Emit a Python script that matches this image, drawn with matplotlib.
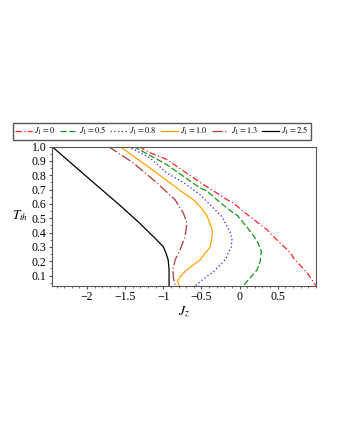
import matplotlib
matplotlib.use("Agg")
import matplotlib.pyplot as plt
from matplotlib.ticker import MultipleLocator

plt.rcParams["font.family"] = ["Liberation Serif", "DejaVu Serif"]
plt.rcParams["mathtext.fontset"] = "stix"

# J1 values and the (Jz, T_th) points
LABELS = ["0", "0.5", "0.8", "1.0", "1.3", "2.5"]

T_J0 = [1.0, 0.956, 0.91, 0.749, 0.72, 0.63, 0.605, 0.546, 0.42, 0.395,
        0.256, 0.22, 0.116, 0.03]
JZ_J0 = [-1.32, -1.175, -0.955, -0.517, -0.43, -0.166, -0.079, 0.05, 0.36,
         0.40, 0.67, 0.71, 0.89, 1.0]

T_J05 = [1.0, 0.874, 0.71, 0.69, 0.607, 0.535, 0.52, 0.395, 0.33, 0.267,
         0.20, 0.14, 0.03]
JZ_J05 = [-1.39, -0.955, -0.517, -0.43, -0.25, -0.079, -0.03, 0.16, 0.24,
          0.285, 0.27, 0.229, 0.05]

T_J08 = [1.0, 0.92, 0.816, 0.75, 0.663, 0.607, 0.51, 0.395, 0.35, 0.30,
         0.21, 0.128, 0.058, 0.03]
JZ_J08 = [-1.46, -1.175, -0.955, -0.74, -0.517, -0.41, -0.23, -0.12, -0.10,
          -0.11, -0.188, -0.34, -0.517, -0.575]

T_J10 = [1.0, 0.85, 0.677, 0.628, 0.58, 0.52, 0.42, 0.395, 0.30, 0.21,
         0.14, 0.093, 0.058, 0.03]
JZ_J10 = [-1.57, -1.175, -0.737, -0.605, -0.517, -0.43, -0.36, -0.355,
          -0.385, -0.517, -0.69, -0.78, -0.816, -0.79]

T_J13 = [1.0, 0.886, 0.747, 0.628, 0.57, 0.535, 0.465, 0.372, 0.28, 0.21,
         0.14, 0.082, 0.035]
JZ_J13 = [-1.72, -1.395, -1.087, -0.845, -0.78, -0.737, -0.69, -0.715,
          -0.78, -0.845, -0.876, -0.868, -0.845]

T_J25 = [1.0, 0.81, 0.59, 0.537, 0.465, 0.35, 0.30, 0.256, 0.21, 0.14, 0.03]
JZ_J25 = [-2.46, -2.05, -1.57, -1.46, -1.31, -1.09, -1.0, -0.965, -0.937,
          -0.925, -0.925]

curves = [(JZ_J0, T_J0), (JZ_J05, T_J05), (JZ_J08, T_J08),
          (JZ_J10, T_J10), (JZ_J13, T_J13), (JZ_J25, T_J25)]
colors = ["#ff2020", "#119911", "#2222ff", "#ffa500", "#b03a3a", "#000000"]
styles = [(0, (5, 2, 1, 2)), (0, (5, 2)), (0, (1, 2)), "-",
          (0, (8, 2, 1, 2)), "-"]

fig = plt.figure(figsize=(3.4, 4.4), dpi=100)
ax = fig.add_axes([0.153, 0.351, 0.776, 0.316])

for (jz, t), c, ls, lab in zip(curves, colors, styles, LABELS):
    ax.plot(jz, t, color=c, linestyle=ls, lw=0.9,
            label=r"$J_1 = %s$" % lab)

ax.set_xlim(-2.46, 1.0)
ax.set_ylim(0.03, 1.0)
ax.set_xticks([-2, -1.5, -1, -0.5, 0, 0.5])
ax.set_xticklabels(["\u22122", "\u22121.5", "\u22121", "\u22120.5", "0", "0.5"])
ax.set_yticks([0.1, 0.2, 0.3, 0.4, 0.5, 0.6, 0.7, 0.8, 0.9, 1.0])
ax.xaxis.set_minor_locator(MultipleLocator(0.1))
ax.yaxis.set_minor_locator(MultipleLocator(0.05))
ax.tick_params(which="both", direction="out", labelsize=8.5, pad=1.5,
               color="#555555")
ax.tick_params(which="major", length=2.5)
ax.tick_params(which="minor", length=1.3)
for s in ax.spines.values():
    s.set_color("#555555")
    s.set_linewidth(0.8)

ax.set_xlabel(r"$J_z$", fontsize=10, labelpad=1)
ax.set_ylabel(r"$T_{th}$", fontsize=9.5, rotation=0)
ax.yaxis.set_label_coords(-0.12, 0.45)

fig.legend(loc="center", bbox_to_anchor=(0.476, 0.702), ncol=6,
           fontsize=6, handlelength=2.0, handletextpad=0.3,
           columnspacing=0.5, borderpad=0.3, fancybox=False,
           edgecolor="#555555", framealpha=1)

fig.savefig("out.png", dpi=100)
